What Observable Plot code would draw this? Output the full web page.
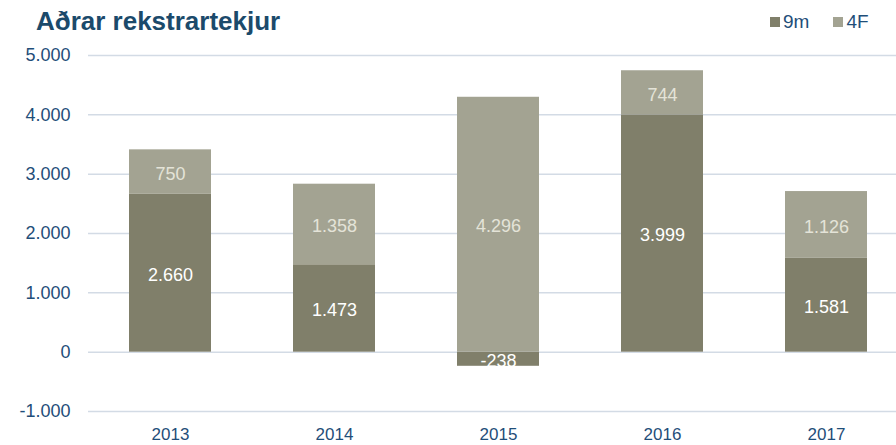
<!DOCTYPE html>
<html>
<head>
<meta charset="utf-8">
<script src="https://cdn.jsdelivr.net/npm/d3@7"></script>
<script src="https://cdn.jsdelivr.net/npm/@observablehq/plot@0.6"></script>
<style>
  html, body { margin: 0; padding: 0; background: #fff; overflow: hidden; width: 896px; height: 445px; }
  #wrap { position: relative; width: 896px; height: 445px; overflow: hidden; font-family: "Liberation Sans", Arial, sans-serif; }
  #title { position: absolute; left: 36px; top: 6px; font-size: 26px; font-weight: bold; color: #1b4a6b; white-space: nowrap; }
  #legend { position: absolute; left: 770px; top: 11px; font-size: 19px; color: #1f4e79; display: flex; white-space: nowrap; }
  .item { display: flex; align-items: center; margin-right: 24px; }
  .sw { width: 10px; height: 10px; margin-right: 3px; display: inline-block; }
  #chart { position: absolute; left: 0; top: 0; }
  #chart svg { max-width: none !important; }
</style>
</head>
<body>
<div id="wrap">
  <div id="chart"></div>
  <div id="title">Aðrar rekstrartekjur</div>
  <div id="legend"></div>
</div>
<script>
const years = ["2013", "2014", "2015", "2016", "2017"];
const series = ["9m", "4F"];
const values9m = [2660, 1473, -238, 3999, 1581];
const values4F = [750, 1358, 4296, 744, 1126];
const yTicks = [-1000, 0, 1000, 2000, 3000, 4000, 5000];

const colors = {"9m": "#807f6a", "4F": "#a3a392"};
const labelColors = {"9m": "#ffffff", "4F": "#e4e3d8"};

const data = [
  ...years.map((y, i) => ({year: y, series: "9m", value: values9m[i]})),
  ...years.map((y, i) => ({year: y, series: "4F", value: values4F[i]}))
];

const locale = d3.formatLocale({decimal: ",", thousands: ".", grouping: [3], currency: ["", ""], minus: "-"});
const fmt = locale.format(",d");

const chart = Plot.plot({
  width: 908,
  height: 445,
  marginLeft: 88,
  marginRight: 0,
  marginTop: 55,
  marginBottom: 34,
  style: {fontFamily: "Liberation Sans, Arial, sans-serif", fontSize: "17px", background: "transparent", maxWidth: "none"},
  x: {domain: years, paddingInner: 0.5, paddingOuter: 0.25, label: null},
  y: {domain: [-1000, 5000], label: null},
  color: {domain: series, range: series.map(s => colors[s])},
  marks: [
    Plot.gridY(yTicks, {stroke: "#d3dbe5", strokeOpacity: 1, strokeWidth: 1.5}),
    Plot.axisY(yTicks, {tickSize: 0, tickPadding: 18, tickFormat: fmt, fill: "#1f4e79", fontSize: 18, label: null}),
    Plot.axisX({tickSize: 0, tickPadding: 16, fill: "#1f4e79", fontSize: 17, label: null}),
    Plot.barY(data, Plot.stackY({x: "year", y: "value", fill: "series"})),
    Plot.text(data, Plot.stackY({x: "year", y: "value", z: "series", text: d => fmt(d.value), fill: d => labelColors[d.series], fontSize: 18, dy: 2}))
  ]
});
document.getElementById("chart").appendChild(chart);

const legend = document.getElementById("legend");
series.forEach(s => {
  const it = document.createElement("div");
  it.className = "item";
  it.innerHTML = `<span class="sw" style="background:${colors[s]}"></span><span>${s}</span>`;
  legend.appendChild(it);
});
</script>
</body>
</html>
